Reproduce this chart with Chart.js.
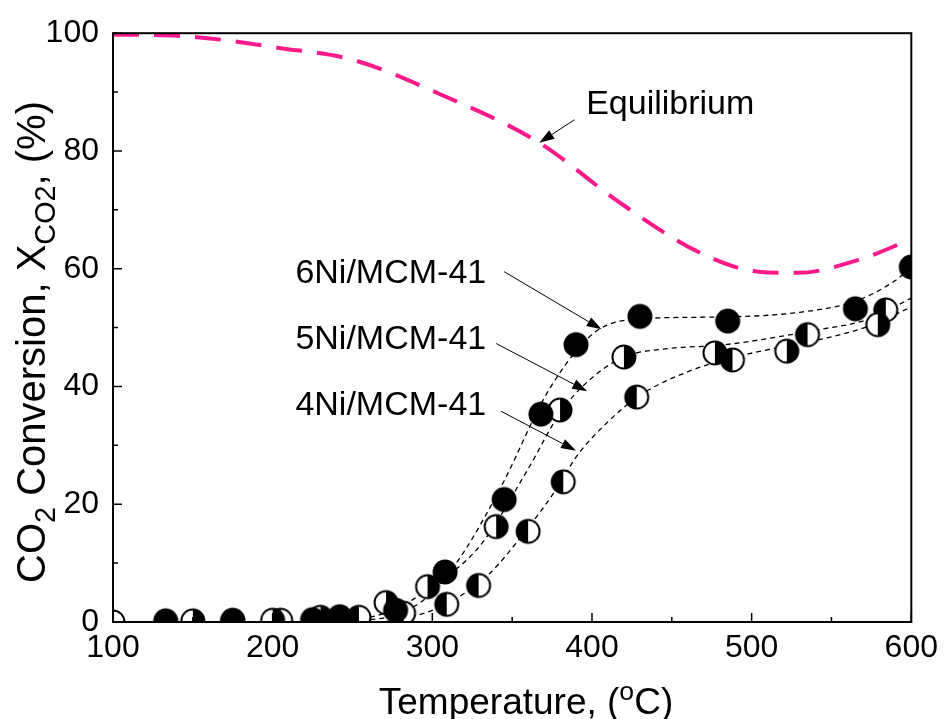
<!DOCTYPE html>
<html>
<head>
<meta charset="utf-8">
<script src="https://cdn.jsdelivr.net/npm/chart.js@4/dist/chart.umd.min.js"></script>
<style>
  html, body { margin: 0; padding: 0; background: #fff; }
</style>
</head>
<body>
<canvas id="conversionChart" width="945" height="719"></canvas>
<script>
const FONT = "'Liberation Sans', Arial, Helvetica, sans-serif";

// CO2 conversion (%) vs temperature (°C), measured points
const temp6Ni = [133, 175, 225, 242, 277, 308, 345, 368, 390, 430, 485, 565, 600];
const conv6Ni = [0.2, 0.3, 0.4, 0.9, 2.0, 8.5, 20.8, 35.3, 47.1, 51.9, 51.1, 53.2, 60.3];

const temp5Ni = [150, 200, 230, 271, 297, 340, 380, 420, 477, 522, 579];
const conv5Ni = [0.2, 0.3, 0.8, 3.3, 6.0, 16.2, 36.0, 45.0, 45.7, 46.0, 50.5];

const temp4Ni = [100, 175, 205, 254, 282, 309, 329, 360, 382, 428, 488, 535, 584];
const conv4Ni = [0.0, 0.1, 0.3, 0.8, 1.5, 3.0, 6.2, 15.4, 23.8, 38.2, 44.5, 48.8, 53.0];

// dashed guide curves through the data
const fitTemp6Ni = [250, 280, 300, 320, 345, 370, 390, 405, 430, 480, 530, 565, 590, 600];
const fitConv6Ni = [0.0, 1.5, 5.0, 12.0, 24.0, 38.0, 46.0, 49.8, 51.5, 51.8, 52.6, 54.5, 58.0, 60.3];

const fitTemp5Ni = [250, 275, 300, 330, 360, 380, 398, 420, 450, 480, 543, 573, 600];
const fitConv5Ni = [0.0, 2.0, 6.0, 13.0, 26.0, 35.5, 41.0, 45.0, 46.5, 47.0, 49.7, 51.4, 55.0];

const fitTemp4Ni = [270, 295, 315, 335, 360, 380, 390, 410, 430, 460, 490, 520, 543, 573, 600];
const fitConv4Ni = [0.0, 1.5, 4.0, 8.0, 16.0, 23.5, 28.0, 34.0, 38.5, 42.5, 45.0, 46.8, 48.0, 50.2, 53.5];

// thermodynamic equilibrium conversion
const eqTemp = [100, 150, 204, 250, 306, 367, 417, 467, 504, 529, 567, 600];
const eqConv = [99.8, 99.4, 97.5, 95.5, 89.5, 81.4, 71.3, 62.8, 59.5, 59.3, 61.5, 65.0];

const xTicks = [100, 200, 300, 400, 500, 600];
const xMinorTicks = [150, 250, 350, 450, 550];
const yTicks = [0, 20, 40, 60, 80, 100];
const yMinorTicks = [10, 30, 50, 70, 90];

// callouts: text anchor and arrow (from -> to), in data units
const callouts = [
    { text: '6Ni/MCM-41', tx: 274, ty: 59.1, from: [345, 59.5], to: [406, 49.7] },
    { text: '5Ni/MCM-41', tx: 274, ty: 48.0, from: [340, 47.3], to: [397, 39.2] },
    { text: '4Ni/MCM-41', tx: 274, ty: 36.7, from: [343, 35.8], to: [390, 29.1] },
    { text: 'Equilibrium', tx: 449, ty: 87.8, from: [389, 85.3], to: [367, 81.4] }
];

const toXY = (xs, ys) => xs.map((x, i) => ({ x: x, y: ys[i] }));

function makeMarker(kind) {
    const r = 11.5;
    const size = 28;
    const m = size / 2;
    const c = document.createElement('canvas');
    c.width = size;
    c.height = size;
    const g = c.getContext('2d');
    g.beginPath();
    g.arc(m, m, r, 0, Math.PI * 2);
    g.fillStyle = kind === 'full' ? '#000' : '#fff';
    g.fill();
    if (kind !== 'full') {
        g.beginPath();
        if (kind === 'right') g.arc(m, m, r, -Math.PI / 2, Math.PI / 2);
        else g.arc(m, m, r, Math.PI / 2, Math.PI * 1.5);
        g.closePath();
        g.fillStyle = '#000';
        g.fill();
    }
    g.beginPath();
    g.arc(m, m, r, 0, Math.PI * 2);
    g.lineWidth = 2;
    g.strokeStyle = '#000';
    g.stroke();
    return c;
}

function pointSet(xs, ys, kind) {
    return {
        data: toXY(xs, ys),
        showLine: false,
        pointStyle: makeMarker(kind),
        pointRadius: 12,
        pointHoverRadius: 12,
        clip: 0,
        order: 0
    };
}

function guideSet(xs, ys) {
    return {
        data: toXY(xs, ys),
        showLine: true,
        borderColor: '#000',
        borderWidth: 1.3,
        borderDash: [5, 4],
        cubicInterpolationMode: 'monotone',
        pointRadius: 0,
        clip: 0,
        order: 1
    };
}

// draws rich text with sub/superscript parts along the current x direction
function drawRich(ctx, parts, x, y, size, align) {
    const widths = parts.map(p => {
        ctx.font = (p.sub || p.sup ? size * 0.72 : size) + 'px ' + FONT;
        return ctx.measureText(p.t).width;
    });
    const total = widths.reduce((s, w) => s + w, 0);
    let cx = align === 'center' ? x - total / 2 : x;
    parts.forEach((p, i) => {
        const small = p.sub || p.sup;
        ctx.font = (small ? size * 0.72 : size) + 'px ' + FONT;
        let dy = 0;
        if (p.sub) dy = size * 0.24;
        if (p.sup) dy = -size * 0.38;
        ctx.fillText(p.t, cx, y + dy);
        cx += widths[i];
    });
}

const frameAndNotes = {
    id: 'frameAndNotes',
    afterDatasetsDraw(chart) {
        const { ctx, chartArea: a, scales: { x, y } } = chart;
        ctx.save();
        ctx.strokeStyle = '#000';
        ctx.fillStyle = '#000';

        // inward ticks on bottom and left axes
        ctx.lineWidth = 1.5;
        ctx.beginPath();
        xTicks.forEach(v => { const px = x.getPixelForValue(v); ctx.moveTo(px, a.bottom); ctx.lineTo(px, a.bottom - 9); });
        xMinorTicks.forEach(v => { const px = x.getPixelForValue(v); ctx.moveTo(px, a.bottom); ctx.lineTo(px, a.bottom - 5); });
        yTicks.forEach(v => { const py = y.getPixelForValue(v); ctx.moveTo(a.left, py); ctx.lineTo(a.left + 9, py); });
        yMinorTicks.forEach(v => { const py = y.getPixelForValue(v); ctx.moveTo(a.left, py); ctx.lineTo(a.left + 5, py); });
        ctx.stroke();

        ctx.lineWidth = 2;
        ctx.strokeRect(a.left, a.top, a.right - a.left, a.bottom - a.top);

        // callout labels and arrows
        ctx.font = '34px ' + FONT;
        ctx.textAlign = 'center';
        ctx.textBaseline = 'middle';
        callouts.forEach(c => {
            ctx.fillText(c.text, x.getPixelForValue(c.tx), y.getPixelForValue(c.ty));
            const x0 = x.getPixelForValue(c.from[0]), y0 = y.getPixelForValue(c.from[1]);
            const x1 = x.getPixelForValue(c.to[0]), y1 = y.getPixelForValue(c.to[1]);
            const ang = Math.atan2(y1 - y0, x1 - x0);
            const len = 15, half = 5;
            ctx.lineWidth = 1;
            ctx.beginPath();
            ctx.moveTo(x0, y0);
            ctx.lineTo(x1 - Math.cos(ang) * len, y1 - Math.sin(ang) * len);
            ctx.stroke();
            ctx.beginPath();
            ctx.moveTo(x1, y1);
            ctx.lineTo(x1 - Math.cos(ang) * len - Math.sin(ang) * half, y1 - Math.sin(ang) * len + Math.cos(ang) * half);
            ctx.lineTo(x1 - Math.cos(ang) * len + Math.sin(ang) * half, y1 - Math.sin(ang) * len - Math.cos(ang) * half);
            ctx.closePath();
            ctx.fill();
        });

        // axis titles
        ctx.textAlign = 'left';
        ctx.textBaseline = 'alphabetic';
        drawRich(ctx, [{ t: 'Temperature, (' }, { t: 'o', sup: true }, { t: 'C)' }],
            526, 714, 37, 'center');

        ctx.translate(45, 342);
        ctx.rotate(-Math.PI / 2);
        drawRich(ctx, [{ t: 'CO' }, { t: '2', sub: true }, { t: ' Conversion, X' }, { t: 'CO2', sub: true }, { t: ', (%)' }],
            0, 0, 40, 'center');
        ctx.restore();
    }
};

const ctx = document.getElementById('conversionChart').getContext('2d');

new Chart(ctx, {
    type: 'scatter',
    data: {
        datasets: [
            pointSet(temp6Ni, conv6Ni, 'full'),
            pointSet(temp5Ni, conv5Ni, 'right'),
            pointSet(temp4Ni, conv4Ni, 'left'),
            guideSet(fitTemp6Ni, fitConv6Ni),
            guideSet(fitTemp5Ni, fitConv5Ni),
            guideSet(fitTemp4Ni, fitConv4Ni),
            {
                data: toXY(eqTemp, eqConv),
                showLine: true,
                borderColor: '#ff1a8c',
                borderWidth: 4,
                borderDash: [26, 15],
                cubicInterpolationMode: 'monotone',
                pointRadius: 0,
                clip: 0,
                order: 2
            }
        ]
    },
    options: {
        responsive: false,
        animation: false,
        events: [],
        layout: { padding: { top: 30, right: 32, left: 0, bottom: 0 } },
        plugins: {
            legend: { display: false },
            tooltip: { enabled: false }
        },
        scales: {
            x: {
                type: 'linear',
                min: 100,
                max: 600,
                afterBuildTicks: s => { s.ticks = xTicks.map(v => ({ value: v })); },
                afterFit: s => { s.height = 97; },
                grid: { display: false, drawTicks: false },
                border: { display: false },
                ticks: { color: '#000', font: { family: FONT, size: 32 }, padding: 7, maxRotation: 0 }
            },
            y: {
                type: 'linear',
                min: 0,
                max: 100,
                afterBuildTicks: s => { s.ticks = yTicks.map(v => ({ value: v })); },
                afterFit: s => { s.width = 113; },
                grid: { display: false, drawTicks: false },
                border: { display: false },
                ticks: { color: '#000', font: { family: FONT, size: 32 }, padding: 14 }
            }
        }
    },
    plugins: [frameAndNotes]
});
</script>
</body>
</html>
